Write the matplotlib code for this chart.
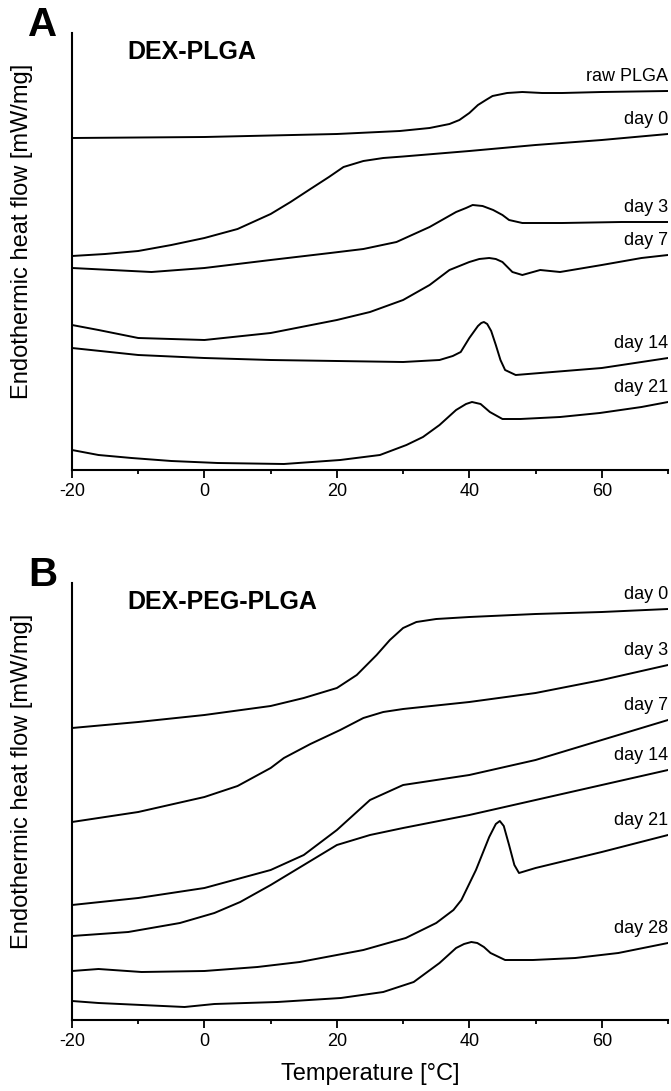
import numpy as np
import matplotlib.pyplot as plt
from matplotlib.ticker import MultipleLocator

plt.rcParams['font.family'] = ['Liberation Sans', 'DejaVu Sans']
plt.rcParams['axes.unicode_minus'] = False

# ---- data (temperature in °C, heat flow in arbitrary offset units) ----
# panel A: DEX-PLGA
a_raw_t = [-20, 0, 20, 29.5, 34, 37, 38.5, 40, 41.3, 42.5, 43.5, 45.7, 48, 51, 54, 60, 70]
a_raw_v = [332, 333, 336, 339, 342, 346, 350, 357, 365, 370, 374, 377, 378, 377, 377, 378, 379]

a_d0_t = [-20, -15, -10, -5, 0, 5, 10, 13, 16, 18.8, 21, 24, 27, 30, 40, 50, 60, 70]
a_d0_v = [214, 216, 219, 225, 232, 241, 256, 268, 281, 293, 303, 309, 312, 313.5, 319, 325, 330, 336]

a_d3_t = [-20, -14, -8, 0, 10, 19, 24, 29, 34, 38, 39.5, 40.5, 42, 43.6, 45, 46, 48, 54, 63, 70]
a_d3_v = [202, 200, 198, 202, 210, 217, 221, 228, 243, 258, 262, 265, 264, 260, 255, 250, 247, 247, 248, 248]

a_d7_t = [-20, -16, -10, 0, 10, 20, 25, 30, 34, 37, 40, 41.5, 43, 44, 45, 46.5, 48, 50.7, 53.7, 60, 66, 70]
a_d7_v = [145, 140, 132, 130, 137, 150, 158, 170, 185, 200, 208, 211, 212, 211, 208, 198, 195, 200, 198, 205, 212, 215]

a_d14_t = [-20, -10, 0, 10, 20, 30, 35.5, 37.5, 38.7, 40, 41.3, 41.8, 42.2, 42.7, 43.3, 44, 44.7, 45.4, 47, 50.7, 60, 66, 70]
a_d14_v = [122, 115, 112, 110, 109, 108, 110, 114, 118, 132, 144, 147, 148, 146, 139, 125, 110, 100, 95, 97, 102, 108, 112]

a_d21_t = [-20, -16, -11, -5, 2, 12, 20.5, 26.5, 30.5, 33, 35.5, 38, 39.5, 40.4, 41.7, 43.1, 45, 47.7, 53.7, 59.7, 66, 70]
a_d21_v = [20, 15, 12, 9, 7, 6, 10, 15, 25, 33, 45, 60, 66, 68, 66, 58, 51, 51, 53, 57, 63, 68]

# panel B: DEX-PEG-PLGA
b_d0_t = [-20, -10, 0, 10, 15, 20, 23, 26, 28, 30, 32, 35, 40, 50, 60, 70]
b_d0_v = [292, 298, 305, 314, 322, 332, 345, 365, 380, 392, 398, 401, 403, 406, 408, 411]

b_d3_t = [-20, -10, 0, 5, 10, 12, 16, 20.5, 24, 27, 30, 40, 50, 60, 70]
b_d3_v = [198, 208, 223, 234, 252, 262, 276, 290, 302, 308, 311, 318, 327, 340, 355]

b_d7_t = [-20, -10, 0, 10, 15, 20, 25, 30, 40, 50, 60, 70]
b_d7_v = [115, 122, 132, 150, 165, 190, 220, 235, 245, 260, 280, 300]

b_d14_t = [-20, -11.5, -3.7, 1.5, 5.4, 10, 15, 20, 25, 30, 40, 50, 60, 70]
b_d14_v = [84, 88, 97, 107, 118, 135, 155, 175, 185, 192, 205, 220, 235, 250]

b_d21_t = [-20, -16, -9.5, 0, 8, 14.4, 24, 30.4, 35, 37.6, 38.8, 41, 43, 44, 44.6, 45.2, 46, 46.8, 47.5, 50, 60, 70]
b_d21_v = [49, 51, 48, 49, 53, 58, 70, 82, 97, 110, 120, 150, 183, 196, 199, 194, 175, 155, 147, 152, 168, 185]

b_d28_t = [-20, -16, -9.5, -3, 1.5, 11, 20.6, 27, 31.6, 35.5, 38, 39.2, 40.3, 41.2, 42.2, 43.2, 45.4, 49.6, 56, 62.5, 70]
b_d28_v = [19, 17, 15, 13, 16, 18, 22, 28, 38, 57, 72, 76, 78, 77, 73, 67, 60, 60, 62, 67, 77]

a_labels = ['raw PLGA', 'day 0', 'day 3', 'day 7', 'day 14', 'day 21']
a_series = [(a_raw_t, a_raw_v), (a_d0_t, a_d0_v), (a_d3_t, a_d3_v),
            (a_d7_t, a_d7_v), (a_d14_t, a_d14_v), (a_d21_t, a_d21_v)]
b_labels = ['day 0', 'day 3', 'day 7', 'day 14', 'day 21', 'day 28']
b_series = [(b_d0_t, b_d0_v), (b_d3_t, b_d3_v), (b_d7_t, b_d7_v),
            (b_d14_t, b_d14_v), (b_d21_t, b_d21_v), (b_d28_t, b_d28_v)]

W, H = 671, 1091
fig = plt.figure(figsize=(W / 100, H / 100), dpi=100)


def px(x, y):
    return x / W, 1 - y / H


def panel(top_px, series, labels, title, letter, xlabel=None):
    bottom = 1 - (top_px + 437) / H
    ax = fig.add_axes([72 / W, bottom, 596 / W, 437 / H])
    for (t, v), lab in zip(series, labels):
        ax.plot(t, v, color='black', lw=1.4, solid_joinstyle='round')
        ax.annotate(lab, (t[-1], v[-1]), xytext=(0, 4), textcoords='offset points',
                    ha='right', va='bottom', fontsize=13)
    ax.set_xlim(-20, 70)
    ax.set_ylim(0, 437)
    ax.spines['top'].set_visible(False)
    ax.spines['right'].set_visible(False)
    for s in ('left', 'bottom'):
        ax.spines[s].set_linewidth(1.5)
    ax.set_yticks([])
    ax.xaxis.set_major_locator(MultipleLocator(20))
    ax.xaxis.set_minor_locator(MultipleLocator(10))
    ax.tick_params(axis='x', which='major', length=6, width=1.3, labelsize=13, pad=3)
    ax.tick_params(axis='x', which='minor', length=3, width=1.3)
    if xlabel:
        fig.text(*px(370, 1074), xlabel, ha='center', va='center', fontsize=17)
    fig.text(*px(127, top_px + 19), title, ha='left', va='center', fontsize=18, fontweight='bold')
    fig.text(*px(43, top_px - 8), letter, ha='center', va='center', fontsize=29, fontweight='bold')
    fig.text(*px(22, top_px + 198), 'Endothermic heat flow [mW/mg]', rotation=90,
             ha='center', va='center', fontsize=17)
    return ax


panel(33, a_series, a_labels, 'DEX-PLGA', 'A')
panel(583, b_series, b_labels, 'DEX-PEG-PLGA', 'B', xlabel='Temperature [°C]')

fig.savefig('out.png', dpi=100)
